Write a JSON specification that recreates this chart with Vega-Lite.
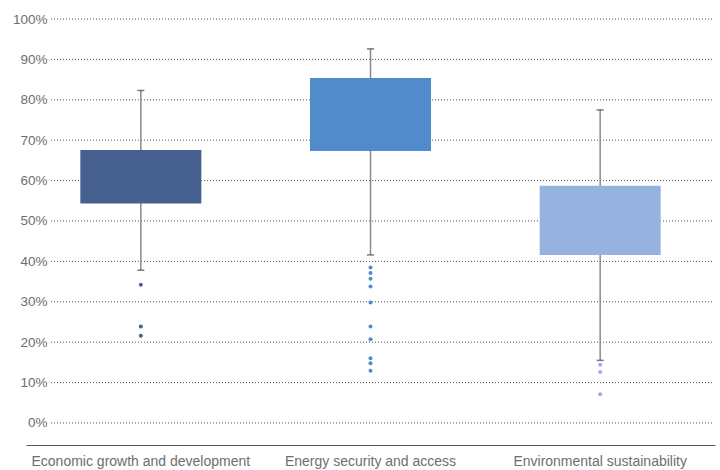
{
  "$schema": "https://vega.github.io/schema/vega-lite/v6.json",
  "width": 662,
  "height": 426,
  "autosize": {"type": "none"},
  "padding": {"left": 50, "top": 19, "right": 8, "bottom": 25},
  "background": "white",
  "config": {
    "view": {"stroke": null},
    "font": "Liberation Sans"
  },
  "datasets": {
    "gridlines": [
      {"pct": 0}, {"pct": 0.1}, {"pct": 0.2}, {"pct": 0.3}, {"pct": 0.4}, {"pct": 0.5},
      {"pct": 0.6}, {"pct": 0.7}, {"pct": 0.8}, {"pct": 0.9}, {"pct": 1}
    ],
    "boxes": [
      {"category": "Economic growth and development", "lower": 0.378, "q1": 0.543, "q3": 0.676, "upper": 0.823},
      {"category": "Energy security and access", "lower": 0.416, "q1": 0.673, "q3": 0.854, "upper": 0.926},
      {"category": "Environmental sustainability", "lower": 0.155, "q1": 0.416, "q3": 0.587, "upper": 0.775}
    ],
    "outliers": [
      {"category": "Economic growth and development", "value": 0.342},
      {"category": "Economic growth and development", "value": 0.239},
      {"category": "Economic growth and development", "value": 0.216},
      {"category": "Energy security and access", "value": 0.385},
      {"category": "Energy security and access", "value": 0.371},
      {"category": "Energy security and access", "value": 0.357},
      {"category": "Energy security and access", "value": 0.338},
      {"category": "Energy security and access", "value": 0.298},
      {"category": "Energy security and access", "value": 0.239},
      {"category": "Energy security and access", "value": 0.207},
      {"category": "Energy security and access", "value": 0.160},
      {"category": "Energy security and access", "value": 0.148},
      {"category": "Energy security and access", "value": 0.129},
      {"category": "Environmental sustainability", "value": 0.144},
      {"category": "Environmental sustainability", "value": 0.126},
      {"category": "Environmental sustainability", "value": 0.071}
    ]
  },
  "layer": [
    {
      "data": {"name": "gridlines"},
      "mark": {"type": "rule", "color": "#555", "strokeWidth": 1, "strokeDash": [1, 2]},
      "encoding": {
        "y": {
          "field": "pct",
          "type": "quantitative",
          "scale": {"domain": [-0.0545, 1], "nice": false, "zero": false},
          "axis": {
            "title": null,
            "values": [0, 0.1, 0.2, 0.3, 0.4, 0.5, 0.6, 0.7, 0.8, 0.9, 1],
            "labelExpr": "round(datum.value * 100) + '%'",
            "domain": false,
            "ticks": false,
            "grid": false,
            "labelColor": "#6e6e6e",
            "labelFontSize": 13.5,
            "labelPadding": 3,
            "labelFont": "Liberation Sans"
          }
        }
      }
    },
    {
      "data": {"name": "boxes"},
      "mark": {"type": "rule", "color": "#8a8a8a", "strokeWidth": 1.5},
      "encoding": {
        "x": {
          "field": "category",
          "type": "nominal",
          "sort": null,
          "scale": {"range": [-24, 665], "paddingInner": 0, "paddingOuter": 0},
          "axis": {
            "title": null,
            "labelAngle": 0,
            "ticks": false,
            "grid": false,
            "domainColor": "#555",
            "domainWidth": 1,
            "labelColor": "#6e6e6e",
            "labelFontSize": 14,
            "labelPadding": 9,
            "labelLimit": 400,
            "labelFont": "Liberation Sans"
          }
        },
        "y": {"field": "lower", "type": "quantitative"},
        "y2": {"field": "upper"}
      }
    },
    {
      "data": {"name": "boxes"},
      "mark": {"type": "tick", "color": "#444", "size": 7, "thickness": 1.5},
      "encoding": {
        "x": {"field": "category", "type": "nominal", "sort": null},
        "y": {"field": "upper", "type": "quantitative"}
      }
    },
    {
      "data": {"name": "boxes"},
      "mark": {"type": "tick", "color": "#444", "size": 7, "thickness": 1.5},
      "encoding": {
        "x": {"field": "category", "type": "nominal", "sort": null},
        "y": {"field": "lower", "type": "quantitative"}
      }
    },
    {
      "data": {"name": "boxes"},
      "mark": {"type": "bar", "size": 121},
      "encoding": {
        "x": {"field": "category", "type": "nominal", "sort": null},
        "y": {"field": "q1", "type": "quantitative"},
        "y2": {"field": "q3"},
        "color": {
          "field": "category",
          "type": "nominal",
          "scale": {
            "domain": ["Economic growth and development", "Energy security and access", "Environmental sustainability"],
            "range": ["#46618f", "#528bcb", "#95b3de"]
          },
          "legend": null
        }
      }
    },
    {
      "data": {"name": "outliers"},
      "mark": {"type": "point", "filled": true, "opacity": 1, "size": 16},
      "encoding": {
        "x": {"field": "category", "type": "nominal", "sort": null},
        "y": {"field": "value", "type": "quantitative"},
        "color": {"field": "category", "type": "nominal", "legend": null}
      }
    }
  ]
}
